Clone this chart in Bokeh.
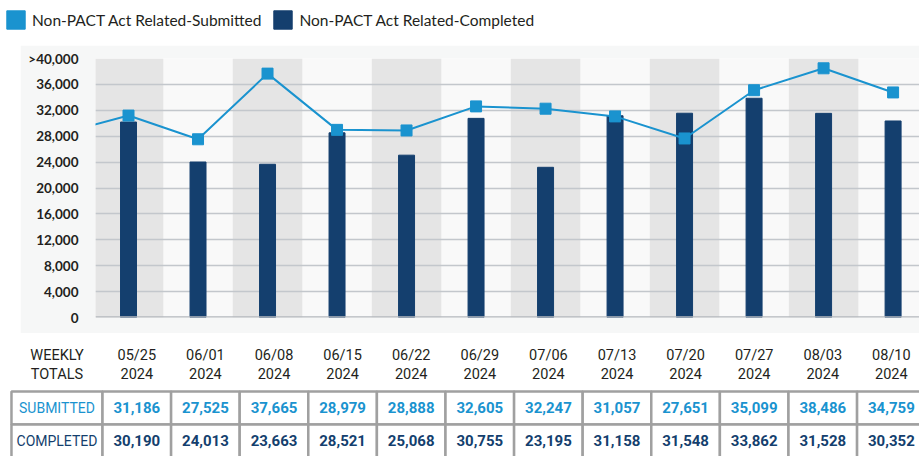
from bokeh.plotting import figure
from bokeh.layouts import column, row
from bokeh.models import (Range1d, FixedTicker, NumeralTickFormatter, Legend,
                          LegendItem, Span, Spacer)
from bokeh.embed import file_html
from bokeh.resources import INLINE
from bokeh.core.properties import value

# ---------------- data ----------------
weeks = ["05/25", "06/01", "06/08", "06/15", "06/22", "06/29",
         "07/06", "07/13", "07/20", "07/27", "08/03", "08/10"]
year = "2024"
submitted = [31186, 27525, 37665, 28979, 28888, 32605,
             32247, 31057, 27651, 35099, 38486, 34759]
completed = [30190, 24013, 23663, 28521, 25068, 30755,
             23195, 31158, 31548, 33862, 31528, 30352]
prior_submitted = 28300          # week before 05/25 (line enters from the left edge)
y_ticks = [0, 4000, 8000, 12000, 16000, 20000, 24000, 28000, 32000, 36000, 40000]
top_tick_label = ">40,000"
series_names = ["Non-PACT Act Related-Submitted", "Non-PACT Act Related-Completed"]
row_labels = ["SUBMITTED", "COMPLETED"]
header_label = "WEEKLY\nTOTALS"

# ---------------- styles ----------------
BLUE = "#1a93cf"
NAVY = "#143f6e"
PANEL = "#f6f7f7"
LIGHT = "#f9f9f9"
DARK = "#e5e5e5"
GRID = "#c3c7cc"
ZERO = "#b3b7bc"
TEXT = "#231f20"
BORDER = "#a0a0a0"
SANS = "Lato"
TFONT = "Roboto"

n = len(weeks)
idx = list(range(n))

# ---------------- legend strip ----------------
leg = figure(width=919, height=45, x_range=Range1d(0, 1), y_range=Range1d(0, 1),
             output_backend="svg", toolbar_location=None, min_border=0,
             x_axis_location=None, y_axis_location=None, outline_line_color=None,
             border_fill_color="white", background_fill_color="white")
leg.grid.visible = False
# swatch renderers hold a point outside the visible range, only the legend shows them
r_sub = leg.quad(left=[5], right=[6], top=[5], bottom=[4], color=BLUE)
r_com = leg.quad(left=[5], right=[6], top=[5], bottom=[4], color=NAVY)
legend = Legend(items=[LegendItem(label=series_names[0], renderers=[r_sub]),
                       LegendItem(label=series_names[1], renderers=[r_com])],
                orientation="horizontal", location=(4, 14), margin=0, padding=0,
                spacing=10, glyph_width=23, glyph_height=23, label_height=23,
                label_standoff=5, border_line_color=None, background_fill_alpha=0,
                label_text_font=SANS, label_text_font_size="15.5px",
                label_text_color=TEXT)
leg.add_layout(legend)

# ---------------- main chart ----------------
p = figure(width=899, height=288, x_range=Range1d(-0.475, 11.38),
           y_range=Range1d(0, 40000), output_backend="svg", toolbar_location=None,
           x_axis_location=None, min_border_left=75, min_border_right=0,
           min_border_top=13, min_border_bottom=16, border_fill_color=PANEL,
           background_fill_color=LIGHT, outline_line_color=None)

p.xgrid.ticker = FixedTicker(ticks=[i - 0.5 for i in range(n + 1)])
p.xgrid.grid_line_color = None
p.xgrid.band_fill_color = DARK
p.xgrid.band_fill_alpha = 1.0

p.ygrid.ticker = FixedTicker(ticks=y_ticks)
p.ygrid.grid_line_color = GRID
p.ygrid.grid_line_width = 1.5

p.yaxis.ticker = FixedTicker(ticks=y_ticks)
p.yaxis.formatter = NumeralTickFormatter(format="0,0")
p.yaxis.major_label_overrides = {y_ticks[-1]: top_tick_label}
p.yaxis.axis_line_color = None
p.yaxis.major_tick_line_color = None
p.yaxis.minor_tick_line_color = None
p.yaxis.major_label_standoff = 11
p.yaxis.major_label_text_font = SANS
p.yaxis.major_label_text_font_style = "bold"
p.yaxis.major_label_text_font_size = "13.5px"
p.yaxis.major_label_text_color = TEXT

p.vbar(x=idx, top=completed, bottom=0, width=0.23, fill_color=NAVY,
       line_color=NAVY, line_width=1)
p.line(x=[-1] + idx, y=[prior_submitted] + submitted, line_color=BLUE, line_width=2)
p.scatter(x=idx, y=submitted, marker="square", size=11, fill_color=BLUE,
          line_color=BLUE)
p.add_layout(Span(location=0, dimension="width", line_color=ZERO, line_width=2.5))

main_row = row(Spacer(width=20, height=288, styles={"background-color": "white"}), p)

# ---------------- table ----------------
LABEL_LEFT = -1.327
t = figure(width=919, height=123, x_range=Range1d(-1.487, 11.91),
           y_range=Range1d(2.97, -0.758), output_backend="svg",
           toolbar_location=None, min_border=0, x_axis_location=None,
           y_axis_location=None, outline_line_color=None,
           border_fill_color="white", background_fill_color="white")
t.grid.visible = False

rows_y = [1, 2]
lefts, rights, tops, bottoms = [], [], [], []
for r in rows_y:
    lefts += [LABEL_LEFT] + idx
    rights += [0] + [i + 1 for i in idx]
    tops += [r] * (n + 1)
    bottoms += [r + 1] * (n + 1)
t.quad(left=lefts, right=rights, top=tops, bottom=bottoms, fill_color="white",
       line_color=BORDER, line_width=2.5)

# header
HEADER_Y = 0.2
t.text(x=[LABEL_LEFT / 2], y=[HEADER_Y], text=[header_label], text_align="center",
       text_baseline="middle", text_font=value(TFONT), text_font_size="14.5px",
       text_color=TEXT, text_line_height=1.15)
t.text(x=[i + 0.5 for i in idx], y=[HEADER_Y] * n, text=[f"{w}\n{year}" for w in weeks],
       text_align="center", text_baseline="middle", text_font=value(TFONT),
       text_font_size="14.5px", text_color=TEXT, text_line_height=1.15)

row_colors = [BLUE, NAVY]
row_values = [submitted, completed]
for r, lab, col, vals in zip(rows_y, row_labels, row_colors, row_values):
    t.text(x=[LABEL_LEFT / 2], y=[r + 0.5], text=[lab], text_align="center",
           text_baseline="middle", text_font=value(TFONT), text_font_size="14px",
           text_color=col)
    t.text(x=[i + 0.5 for i in idx], y=[r + 0.5] * n, text=[f"{v:,}" for v in vals],
           text_align="center", text_baseline="middle", text_font=value(TFONT),
           text_font_style="bold", text_font_size="15px", text_color=col)

layout = column(leg, main_row, t, spacing=0)
open("out.html", "w").write(file_html(layout, INLINE))
